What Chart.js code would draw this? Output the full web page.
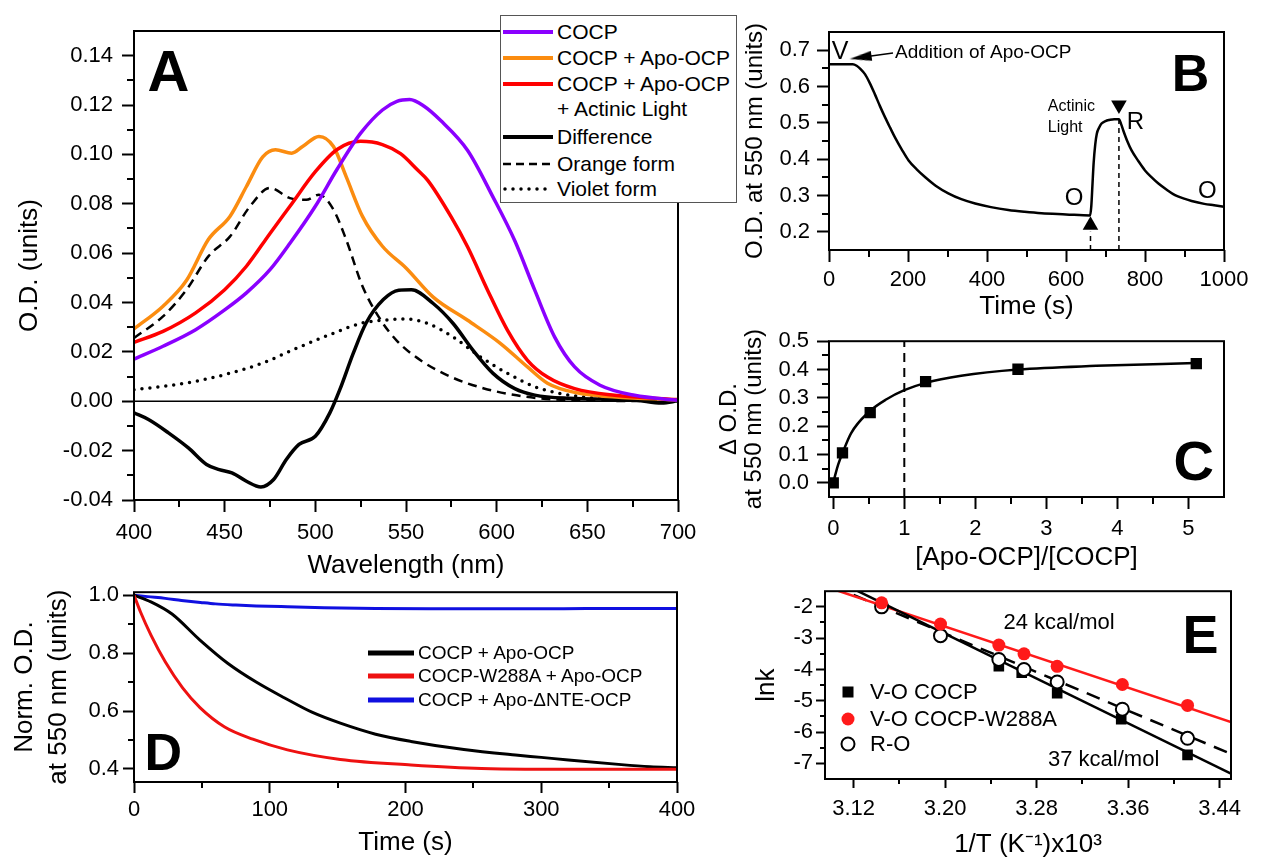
<!DOCTYPE html>
<html><head><meta charset="utf-8">
<script src="https://cdn.jsdelivr.net/npm/chart.js@4.4.1/dist/chart.umd.min.js"></script>
<style>
html,body{margin:0;padding:0;background:#fff;}
body{width:1263px;height:862px;position:relative;overflow:hidden;font-family:'Liberation Sans',Arial,Helvetica,sans-serif;color:#000;}
canvas{position:absolute;}
.lg{position:absolute;white-space:nowrap;}
.box{position:absolute;background:#fff;border:1px solid #555;box-sizing:border-box;}
svg{position:absolute;overflow:visible;}
</style></head><body>
<canvas id="cA" width="760" height="590" style="left:0px;top:0px"></canvas>
<canvas id="cB" width="563" height="330" style="left:700px;top:0px"></canvas>
<canvas id="cC" width="563" height="262" style="left:700px;top:320px"></canvas>
<canvas id="cD" width="740" height="287" style="left:0px;top:575px"></canvas>
<canvas id="cE" width="563" height="287" style="left:700px;top:575px"></canvas>

<!-- Legend A -->
<div class="box" style="left:500px;top:15px;width:237px;height:188px;">
  <svg width="237" height="188" style="left:0;top:0">
    <line x1="2" x2="52" y1="16" y2="16" stroke="#8a00ff" stroke-width="4"/>
    <line x1="2" x2="52" y1="42" y2="42" stroke="#fb8c10" stroke-width="4"/>
    <line x1="2" x2="52" y1="68" y2="68" stroke="#ff0000" stroke-width="4"/>
    <line x1="2" x2="52" y1="121" y2="121" stroke="#000" stroke-width="4"/>
    <line x1="2" x2="52" y1="148" y2="148" stroke="#000" stroke-width="2.5" stroke-dasharray="8,5"/>
    <line x1="4" x2="52" y1="173" y2="173" stroke="#000" stroke-width="3.5" stroke-dasharray="0,8" stroke-linecap="round"/>
  </svg>
  <div class="lg" style="left:56px;top:5px;font-size:21px;line-height:21px">COCP</div>
  <div class="lg" style="left:56px;top:31px;font-size:21px;line-height:21px">COCP + Apo-OCP</div>
  <div class="lg" style="left:56px;top:57px;font-size:21px;line-height:21px">COCP + Apo-OCP</div>
  <div class="lg" style="left:56px;top:82px;font-size:21px;line-height:21px">+ Actinic Light</div>
  <div class="lg" style="left:56px;top:110px;font-size:21px;line-height:21px">Difference</div>
  <div class="lg" style="left:56px;top:137px;font-size:21px;line-height:21px">Orange form</div>
  <div class="lg" style="left:56px;top:162px;font-size:21px;line-height:21px">Violet form</div>
</div>

<!-- Legend D -->
<svg width="60" height="60" style="left:368px;top:640px">
  <line x1="0" x2="46" y1="13" y2="13" stroke="#000" stroke-width="5"/>
  <line x1="0" x2="46" y1="36" y2="36" stroke="#ee1111" stroke-width="5"/>
  <line x1="0" x2="46" y1="60" y2="60" stroke="#1010e0" stroke-width="5"/>
</svg>
<div class="lg" style="left:418px;top:643px;font-size:19px;line-height:19px">COCP + Apo-OCP</div>
<div class="lg" style="left:418px;top:666px;font-size:19px;line-height:19px">COCP-W288A + Apo-OCP</div>
<div class="lg" style="left:418px;top:690px;font-size:19px;line-height:19px">COCP + Apo-ΔNTE-OCP</div>

<!-- Legend E -->
<svg width="30" height="70" style="left:833px;top:680px">
  <rect x="9.5" y="6.5" width="11" height="11" fill="#000"/>
  <circle cx="15" cy="39" r="6.5" fill="#ff1a1a"/>
  <circle cx="15" cy="64" r="6.5" fill="#fff" stroke="#000" stroke-width="2"/>
</svg>
<div class="lg" style="left:870px;top:681px;font-size:22px;line-height:22px">V-O COCP</div>
<div class="lg" style="left:870px;top:708px;font-size:22px;line-height:22px">V-O COCP-W288A</div>
<div class="lg" style="left:870px;top:733px;font-size:22px;line-height:22px">R-O</div>

<script>
// ================= DATA =================
// Panel A : absorption spectra
const aPurpleWl = [400,416,434,450,462,475,486,500,512,525,537,545,552,560,569,584,598,610,621,632,643,657,676,700];
const aPurpleOD = [0.0171,0.0223,0.029,0.037,0.0439,0.0533,0.064,0.079,0.094,0.1086,0.118,0.1215,0.1222,0.1195,0.1138,0.1016,0.0827,0.065,0.045,0.026,0.0139,0.0065,0.0024,0.0004];
const aOrangeWl = [400,416,429,441,453,462,471,478,487,493,502,510,517,526,537,550,565,584,602,617,628,643,700];
const aOrangeOD = [0.0293,0.0385,0.049,0.0655,0.075,0.087,0.099,0.1019,0.1005,0.1032,0.1073,0.1032,0.091,0.0749,0.0628,0.054,0.0422,0.0328,0.0235,0.0139,0.0073,0.0036,0.0005];
const aRedWl = [400,416,434,450,462,475,486,500,512,525,537,547,556,562,575,584,595,606,617,628,643,665,700];
const aRedOD = [0.0239,0.0283,0.0358,0.0452,0.0547,0.068,0.079,0.093,0.102,0.1053,0.104,0.1003,0.094,0.0895,0.0746,0.0625,0.045,0.0287,0.0166,0.0098,0.0051,0.0024,0.0007];
const aDiffWl = [400,408,419,430,440,447,454,462,470,477,484,491,500,508,513.5,521,528,537.5,546,553,565,576,587,598,610,621,640,676,691,700];
const aDiffOD = [-0.0047,-0.0074,-0.0128,-0.0189,-0.0256,-0.0277,-0.029,-0.0324,-0.0347,-0.0317,-0.0236,-0.0175,-0.0142,-0.0047,0.0047,0.0196,0.0317,0.0412,0.045,0.0452,0.0396,0.0315,0.0206,0.0113,0.0051,0.0025,0.0012,0.0005,-0.0007,0.0002];
const aOrangeFormWl = [400,416,429,441,453,464,475,486,495,502,510,517,526,536,545,558,575,593,611,630,660,700];
const aOrangeFormOD = [0.0256,0.0344,0.0452,0.0587,0.0668,0.079,0.0864,0.0823,0.0816,0.0837,0.0776,0.0655,0.0466,0.033,0.0245,0.0166,0.0098,0.0052,0.0024,0.0008,0.0002,0];
const aVioletFormWl = [400,416,434,450,471,490,508,526,540,550,562,576,591,606,621,636,658,700];
const aVioletFormOD = [0.0047,0.006,0.0081,0.0108,0.0155,0.0216,0.027,0.0317,0.033,0.0333,0.0315,0.026,0.018,0.0113,0.0059,0.003,0.0011,0];
const aZeroWl = [400,700];
const aZeroOD = [0,0];
const aXTicks = [400,450,500,550,600,650,700];
const aXMinor = [425,475,525,575,625,675];
const aYTicks = [-0.04,-0.02,0,0.02,0.04,0.06,0.08,0.10,0.12,0.14];
const aYMinor = [-0.03,-0.01,0.01,0.03,0.05,0.07,0.09,0.11,0.13];

// Panel B : kinetics at 550 nm
const bTime = [0,30,60,70,80,91,103,116,129,142,155,167,184,201,222,243,270,302,335,370,410,454,495,538,600,661,664,667,670,674,678,684,690,700,710,722,734,740,745,755,766,783,800,817,834,855,876,897,918,950,975,1000];
const bOD = [0.661,0.661,0.661,0.657,0.648,0.634,0.61,0.579,0.546,0.515,0.486,0.46,0.427,0.397,0.372,0.351,0.327,0.306,0.29,0.278,0.268,0.26,0.255,0.251,0.248,0.245,0.27,0.33,0.39,0.44,0.47,0.487,0.498,0.505,0.508,0.51,0.51,0.495,0.479,0.45,0.424,0.395,0.369,0.35,0.333,0.316,0.301,0.292,0.285,0.277,0.273,0.269];
const bLightOnX = [662,662];
const bLightOnY = [0.15,0.20];
const bLightOffX = [734,734];
const bLightOffY = [0.15,0.51];
const bUpMarkX = [662];
const bUpMarkY = [0.218];
const bDownMarkX = [734];
const bDownMarkY = [0.549];
const bAddArrowX = [88,162];
const bAddArrowY = [0.681,0.692];
const bAddHeadX = [80];
const bAddHeadY = [0.680];
const bXTicks = [0,200,400,600,800,1000];
const bXMinor = [100,300,500,700,900];
const bYTicks = [0.2,0.3,0.4,0.5,0.6,0.7];
const bYMinor = [0.25,0.35,0.45,0.55,0.65];

// Panel C : titration
const cRatio = [0,0.13,0.52,1.3,2.6,5.11];
const cDeltaOD = [0,0.106,0.248,0.357,0.401,0.421];
const cFitRatio = [0,0.03,0.07,0.13,0.25,0.5,0.75,1.0,1.3,1.8,2.6,3.7,5.1];
const cFitOD = [0,0.03,0.065,0.105,0.175,0.25,0.295,0.327,0.353,0.378,0.4,0.413,0.423];
const cStoichX = [1,1];
const cStoichY = [-0.05,0.5];
const cXTicks = [0,1,2,3,4,5];
const cXMinor = [0.5,1.5,2.5,3.5,4.5];
const cYTicks = [0,0.1,0.2,0.3,0.4,0.5];
const cYMinor = [0.05,0.15,0.25,0.35,0.45];

// Panel D : normalized kinetics
const dBlackT = [0,12.5,28,48.6,69,90,111,131.5,152,178,204,243,281,300,320,359,380,400];
const dBlackY = [1.0,0.977,0.935,0.845,0.765,0.70,0.645,0.595,0.558,0.52,0.495,0.467,0.448,0.440,0.431,0.415,0.408,0.404];
const dRedT = [0,4.8,12.5,23,35.8,48.6,66.8,87.5,113,152,204,256,333,400];
const dRedY = [1.0,0.942,0.862,0.77,0.68,0.612,0.545,0.503,0.466,0.433,0.414,0.402,0.399,0.399];
const dBlueT = [0,10,23,35,49,60,75,90,113,140,178,220,256,300,333,370,400];
const dBlueY = [1.0,0.995,0.989,0.982,0.975,0.97,0.966,0.963,0.96,0.957,0.954,0.953,0.953,0.953,0.954,0.954,0.954];
const dXTicks = [0,100,200,300,400];
const dXMinor = [50,150,250,350];
const dYTicks = [0.4,0.6,0.8,1.0];
const dYMinor = [0.5,0.7,0.9];

// Panel E : Arrhenius plot
const eInvT_VO = [3.247,3.267,3.298,3.354,3.412];
const eLnk_VO = [-3.9,-4.1,-4.76,-5.59,-6.73];
const eInvT_W = [3.1445,3.196,3.247,3.269,3.298,3.355,3.412];
const eLnk_W = [-1.87,-2.55,-3.22,-3.5,-3.9,-4.48,-5.15];
const eInvT_RO = [3.1445,3.196,3.247,3.269,3.298,3.355,3.412];
const eLnk_RO = [-2.0,-2.92,-3.68,-4.0,-4.4,-5.27,-6.2];
const eFitVO_X = [3.12,3.45];
const eFitVO_Y = [-1.43,-7.33];
const eFitW_X = [3.10,3.45];
const eFitW_Y = [-1.41,-5.68];
const eFitRO_X = [3.12,3.45];
const eFitRO_Y = [-1.62,-6.7];
const eXTicks = [3.12,3.20,3.28,3.36,3.44];
const eXMinor = [3.16,3.24,3.32,3.40];
const eYTicks = [-7,-6,-5,-4,-3,-2];
const eYMinor = [-6.5,-5.5,-4.5,-3.5,-2.5];

// ================= HELPERS =================
Chart.defaults.font.family = "'Liberation Sans', Arial, Helvetica, sans-serif";
Chart.defaults.color = '#000';
const pts = (xs, ys) => xs.map((x, i) => ({x: x, y: ys[i]}));

const framePlugin = {
  id: 'frame',
  afterDatasetsDraw(chart, args, o) {
    const ctx = chart.ctx, a = chart.chartArea;
    const xs = chart.scales.x, ys = chart.scales.y;
    ctx.save();
    ctx.strokeStyle = '#000';
    ctx.lineWidth = o.width || 2;
    ctx.strokeRect(a.left, a.top, a.right - a.left, a.bottom - a.top);
    ctx.lineWidth = 2;
    (o.minorX || []).forEach(v => { const p = Math.round(xs.getPixelForValue(v)); ctx.beginPath(); ctx.moveTo(p, a.bottom); ctx.lineTo(p, a.bottom + o.minorLen); ctx.stroke(); });
    (o.minorY || []).forEach(v => { const p = Math.round(ys.getPixelForValue(v)); ctx.beginPath(); ctx.moveTo(a.left, p); ctx.lineTo(a.left - o.minorLen, p); ctx.stroke(); });
    (o.notes || []).forEach(n => {
      ctx.font = n.font; ctx.fillStyle = '#000'; ctx.textAlign = 'left'; ctx.textBaseline = 'alphabetic';
      ctx.fillText(n.text, xs.getPixelForValue(n.x), ys.getPixelForValue(n.y));
    });
    ctx.restore();
  }
};

function axis(o) {
  return {
    type: 'linear', position: o.pos, min: o.min, max: o.max,
    afterBuildTicks: s => { s.ticks = o.ticks.map(v => ({value: v})); },
    afterFit: s => { if (o.pos === 'bottom') s.height = o.size; else s.width = o.size; },
    ticks: {callback: o.fmt, font: {size: 22}, color: '#000', padding: o.pad, autoSkip: false, maxRotation: 0, minRotation: 0, includeBounds: false},
    grid: {drawOnChartArea: false, drawTicks: true, tickLength: o.tickLen, tickWidth: 2, tickColor: '#000'},
    border: {display: false},
    title: {display: true, text: o.title, font: {size: o.titleSize, lineHeight: o.titleLH || 1.2}, color: '#000', padding: o.titlePad}
  };
}

function line(xs, ys, color, width, extra) {
  return Object.assign({type: 'line', data: pts(xs, ys), borderColor: color, borderWidth: width, pointRadius: 0,
    fill: false, cubicInterpolationMode: 'monotone', order: 10}, extra || {});
}

function make(id, datasets, scales, pad, frame) {
  return new Chart(document.getElementById(id), {
    type: 'line',
    data: {datasets: datasets},
    options: {
      responsive: false, maintainAspectRatio: false, animation: false, devicePixelRatio: 1, events: [],
      layout: {padding: pad},
      scales: scales,
      plugins: {legend: {display: false}, tooltip: {enabled: false}, frame: frame}
    },
    plugins: [framePlugin]
  });
}

// ================= PANEL A =================
make('cA', [
  line(aZeroWl, aZeroOD, '#000', 1.5, {cubicInterpolationMode: 'default', order: 20}),
  line(aVioletFormWl, aVioletFormOD, '#000', 3.5, {borderDash: [0, 8], borderCapStyle: 'round', order: 15}),
  line(aOrangeFormWl, aOrangeFormOD, '#000', 2.5, {borderDash: [9, 6], order: 14}),
  line(aDiffWl, aDiffOD, '#000', 3.5, {order: 13}),
  line(aOrangeWl, aOrangeOD, '#fb8c10', 3.5, {order: 12}),
  line(aRedWl, aRedOD, '#ff0000', 3.5, {order: 11}),
  line(aPurpleWl, aPurpleOD, '#8a00ff', 3.5, {order: 10})
], {
  x: axis({pos: 'bottom', min: 400, max: 700, ticks: aXTicks, fmt: v => String(Math.round(v)), size: 90, pad: 8, tickLen: 12,
    title: 'Wavelength (nm)', titleSize: 26, titlePad: {top: 0, bottom: 8.4}}),
  y: axis({pos: 'left', min: -0.04, max: 0.15, ticks: aYTicks, fmt: v => v.toFixed(2), size: 134, pad: 9, tickLen: 12,
    title: 'O.D. (units)', titleSize: 26, titlePad: {top: 14.4, bottom: 0}})
}, {left: 0, top: 31, right: 82, bottom: 0},
{minorX: aXMinor, minorY: aYMinor, minorLen: 7, notes: [
  {text: 'A', x: 407.5, y: 0.1255, font: 'bold 58px "Liberation Sans", Arial, sans-serif'}
]});

// ================= PANEL B =================
const arrowImg = (() => {
  const c = document.createElement('canvas'); c.width = 22; c.height = 10;
  const g = c.getContext('2d'); g.fillStyle = '#000';
  g.beginPath(); g.moveTo(0, 5); g.lineTo(22, 0); g.lineTo(22, 10); g.closePath(); g.fill();
  return c;
})();
make('cB', [
  line(bTime, bOD, '#000', 2.5, {order: 10}),
  line(bLightOnX, bLightOnY, '#000', 1.5, {cubicInterpolationMode: 'default', borderDash: [5, 4], order: 11}),
  line(bLightOffX, bLightOffY, '#000', 1.5, {cubicInterpolationMode: 'default', borderDash: [5, 4], order: 11}),
  line(bAddArrowX, bAddArrowY, '#000', 1.5, {cubicInterpolationMode: 'default', order: 11}),
  {type: 'line', data: pts(bUpMarkX, bUpMarkY), showLine: false, pointStyle: 'triangle', pointRadius: 9, pointRotation: 0,
    pointBackgroundColor: '#000', pointBorderColor: '#000', pointBorderWidth: 0, order: 1},
  {type: 'line', data: pts(bDownMarkX, bDownMarkY), showLine: false, pointStyle: 'triangle', pointRadius: 9, pointRotation: 180,
    pointBackgroundColor: '#000', pointBorderColor: '#000', pointBorderWidth: 0, order: 1},
  {type: 'line', data: pts(bAddHeadX, bAddHeadY), showLine: false, pointStyle: arrowImg, pointRotation: -8, order: 1}
], {
  x: axis({pos: 'bottom', min: 0, max: 1000, ticks: bXTicks, fmt: v => String(Math.round(v)), size: 80, pad: 5, tickLen: 12,
    title: 'Time (s)', titleSize: 26, titlePad: {top: 0, bottom: 7.4}}),
  y: axis({pos: 'left', min: 0.15, max: 0.75, ticks: bYTicks, fmt: v => v.toFixed(1), size: 129, pad: 7, tickLen: 12,
    title: 'O.D. at 550 nm (units)', titleSize: 24, titlePad: {top: 40.6, bottom: 0}})
}, {left: 0, top: 32, right: 39, bottom: 0},
{minorX: bXMinor, minorY: bYMinor, minorLen: 7, notes: [
  {text: 'B', x: 868, y: 0.588, font: 'bold 52px "Liberation Sans", Arial, sans-serif'},
  {text: 'V', x: 7, y: 0.675, font: '25px "Liberation Sans", Arial, sans-serif'},
  {text: 'Addition of Apo-OCP', x: 167, y: 0.678, font: '19px "Liberation Sans", Arial, sans-serif'},
  {text: 'Actinic', x: 554, y: 0.533, font: '16px "Liberation Sans", Arial, sans-serif'},
  {text: 'Light', x: 554, y: 0.474, font: '16px "Liberation Sans", Arial, sans-serif'},
  {text: 'R', x: 754, y: 0.484, font: '24px "Liberation Sans", Arial, sans-serif'},
  {text: 'O', x: 597, y: 0.274, font: '24px "Liberation Sans", Arial, sans-serif'},
  {text: 'O', x: 934, y: 0.293, font: '24px "Liberation Sans", Arial, sans-serif'}
]});

// ================= PANEL C =================
make('cC', [
  line(cFitRatio, cFitOD, '#000', 2.5, {order: 10}),
  line(cStoichX, cStoichY, '#000', 2, {cubicInterpolationMode: 'default', borderDash: [9, 6], order: 11}),
  {type: 'line', data: pts(cRatio, cDeltaOD), showLine: false, pointStyle: 'rect', pointRadius: 8,
    pointBackgroundColor: '#000', pointBorderColor: '#000', pointBorderWidth: 0, order: 1}
], {
  x: axis({pos: 'bottom', min: -0.06, max: 5.5, ticks: cXTicks, fmt: v => String(Math.round(v)), size: 85, pad: 7, tickLen: 12,
    title: '[Apo-OCP]/[COCP]', titleSize: 26, titlePad: {top: 0, bottom: 8.4}}),
  y: axis({pos: 'left', min: -0.05, max: 0.5, ticks: cYTicks, fmt: v => v.toFixed(1), size: 129, pad: 8, tickLen: 12,
    title: ['Δ O.D.', 'at 550 nm (units)'], titleSize: 24, titleLH: 1.05, titlePad: {top: 16.4, bottom: 0}})
}, {left: 0, top: 16, right: 39, bottom: 0},
{minorX: cXMinor, minorY: cYMinor, minorLen: 7, notes: [
  {text: 'C', x: 4.79, y: 0.01, font: 'bold 56px "Liberation Sans", Arial, sans-serif'}
]});

// ================= PANEL D =================
make('cD', [
  line(dBlueT, dBlueY, '#1010e0', 3, {order: 12}),
  line(dBlackT, dBlackY, '#000', 3, {order: 11}),
  line(dRedT, dRedY, '#ee1111', 3, {order: 10})
], {
  x: axis({pos: 'bottom', min: 0, max: 400, ticks: dXTicks, fmt: v => String(Math.round(v)), size: 80, pad: 4, tickLen: 11,
    title: 'Time (s)', titleSize: 26, titlePad: {top: 0, bottom: 3.4}}),
  y: axis({pos: 'left', min: 0.355, max: 1.0103, ticks: dYTicks, fmt: v => v.toFixed(1), size: 134, pad: 4, tickLen: 11,
    title: ['Norm. O.D.', 'at 550 nm (units)'], titleSize: 26, titleLH: 1.3, titlePad: {top: 8.1, bottom: 0}})
}, {left: 0, top: 17, right: 63, bottom: 0},
{minorX: dXMinor, minorY: dYMinor, minorLen: 6, notes: [
  {text: 'D', x: 7.7, y: 0.397, font: 'bold 52px "Liberation Sans", Arial, sans-serif'}
]});

// ================= PANEL E =================
make('cE', [
  line(eFitW_X, eFitW_Y, '#ff1a1a', 2.5, {cubicInterpolationMode: 'default', order: 12}),
  line(eFitRO_X, eFitRO_Y, '#000', 2.5, {cubicInterpolationMode: 'default', borderDash: [14, 9], order: 13}),
  line(eFitVO_X, eFitVO_Y, '#000', 2.5, {cubicInterpolationMode: 'default', order: 11}),
  {type: 'line', data: pts(eInvT_VO, eLnk_VO), showLine: false, pointStyle: 'rect', pointRadius: 7.5,
    pointBackgroundColor: '#000', pointBorderColor: '#000', pointBorderWidth: 0, order: 3},
  {type: 'line', data: pts(eInvT_RO, eLnk_RO), showLine: false, pointStyle: 'circle', pointRadius: 6.5,
    pointBackgroundColor: '#fff', pointBorderColor: '#000', pointBorderWidth: 2, order: 2},
  {type: 'line', data: pts(eInvT_W, eLnk_W), showLine: false, pointStyle: 'circle', pointRadius: 6.5,
    pointBackgroundColor: '#ff1a1a', pointBorderColor: '#ff1a1a', pointBorderWidth: 0, order: 1}
], {
  x: axis({pos: 'bottom', min: 3.095, max: 3.45, ticks: eXTicks, fmt: v => v.toFixed(2), size: 83, pad: 8, tickLen: 9,
    title: '1/T (K⁻¹)x10³', titleSize: 26, titlePad: {top: 0, bottom: 1.4}}),
  y: axis({pos: 'left', min: -7.5, max: -1.5, ticks: eYTicks, fmt: v => String(Math.round(v)), size: 125, pad: 3, tickLen: 9,
    title: 'lnk', titleSize: 26, titlePad: {top: 51.4, bottom: 0}})
}, {left: 0, top: 16, right: 32, bottom: 0},
{minorX: eXMinor, minorY: eYMinor, minorLen: 5, notes: [
  {text: 'E', x: 3.4076, y: -3.46, font: 'bold 54px "Liberation Sans", Arial, sans-serif'},
  {text: '24 kcal/mol', x: 3.251, y: -2.71, font: '22px "Liberation Sans", Arial, sans-serif'},
  {text: '37 kcal/mol', x: 3.290, y: -7.07, font: '22px "Liberation Sans", Arial, sans-serif'}
]});
</script>
</body></html>
